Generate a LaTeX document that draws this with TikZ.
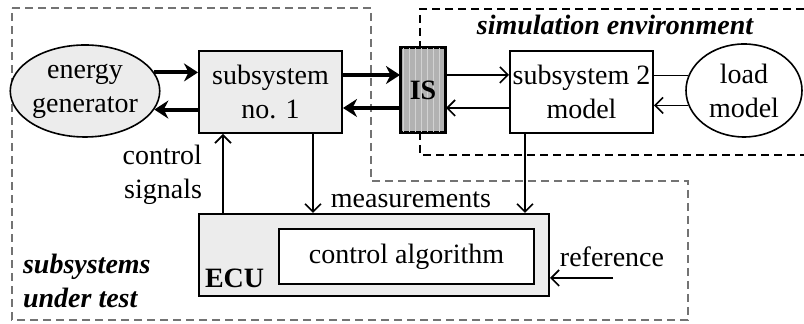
\documentclass[tikz,border=0pt]{standalone}
\usepackage{fontspec}
\setmainfont{Liberation Serif}
\usetikzlibrary{shapes,shapes.geometric,arrows.meta,calc,positioning,patterns}
\tikzset{blk/.style={draw,line width=1pt,rectangle,align=center,inner sep=1pt},
  oval/.style={draw,line width=0.8pt,ellipse,align=center,inner sep=0pt},
  power/.style={line width=2pt,-{Stealth[length=7pt,width=9pt]}},
  sig/.style={line width=0.8pt,-{Straight Barb[length=4pt,width=8pt]}},
  region/.style={line width=1pt,dash pattern=on 4pt off 2.5pt}}

\begin{document}
\begin{tikzpicture}[x=0.5pt,y=-0.5pt,font=\fontsize{14}{17}\selectfont]
\useasboundingbox (0,0) rectangle (804,324);
% regions
\draw[region,black!55] (12,8) -- (371,8) -- (371,181) -- (688,181) -- (688,320) -- (12,320) -- cycle;
\draw[region] (804,9) -- (420,9) -- (420,155) -- (804,155);
\node (simenv) at (615,25) {\bfseries\itshape simulation environment};
\node[anchor=west,align=left] (sut) at (16,281) {\bfseries\itshape subsystems\\\bfseries\itshape under test};

\coordinate (up) at (0,75);
\coordinate (dn) at (0,108);

\node[oval,fill=gray!15,minimum width=65pt,minimum height=46pt] (gen) at (85,91) {energy\\generator};
\node[blk,fill=gray!15,minimum width=71.5pt,minimum height=41pt] (sub1) at (270.5,92) {subsystem\\no. 1};
\node[blk,fill=gray!60,minimum width=22pt,minimum height=42pt,inner sep=0pt] (IS) at (423,90) {};
\fill[pattern=vertical lines,pattern color=gray!35] (IS.south west) rectangle (IS.north east);
\draw[line width=1pt] (IS.south west) rectangle (IS.north east);
\node[font=\fontsize{14}{17}\selectfont\bfseries] (ISlab) at (IS.center) {IS};
\node[blk,fill=white,minimum width=71.5pt,minimum height=41pt] (sub2) at (581.5,92) {subsystem 2\\model};
\node[oval,fill=white,minimum width=58pt,minimum height=46.5pt] (load) at (744,90.5) {load\\model};
\node[blk,fill=gray!15,minimum width=175pt,minimum height=41pt] (ECU) at (374,255) {};
\node[blk,fill=white,minimum width=127.5pt,minimum height=27.5pt] (alg) at (406.5,256.5) {control algorithm};
\node[anchor=west,font=\fontsize{14}{17}\selectfont\bfseries] (ECUlab) at (ECU.west |- 0,278) {ECU};

% power flow
\draw[power] (gen.15) -- (sub1.west |- gen.15);
\draw[power] (sub1.west |- gen.-15) -- (gen.-15);
\draw[power] (sub1.east |- up) -- (IS.west |- up);
\draw[power] (IS.west |- dn) -- (sub1.east |- dn);

% model signals
\draw[sig] (IS.east |- up) -- (sub2.west |- up);
\draw[sig] (sub2.west |- dn) -- (IS.east |- dn);
\draw[line width=0.8pt] (load.165) -- (sub2.east |- load.165);
\draw[sig] (load.-165) -- (sub2.east |- load.-165);

% control loop
\draw[sig] (ECU.north -| 223,0) -- (sub1.south -| 223,0);
\draw[sig] (sub1.south -| 313,0) -- (ECU.north -| 313,0);
\draw[sig] (sub2.south -| 525,0) -- (ECU.north -| 525,0);
\coordinate (refin) at (613,278);
\draw[sig] (refin) -- (ECU.east |- refin);

\node[anchor=east,align=right] (ctrl) at (209,175) {control\\signals};
\node (meas) at (411,200) {measurements};
\node (ref) at (612,257) {reference};
\end{tikzpicture}
\end{document}
